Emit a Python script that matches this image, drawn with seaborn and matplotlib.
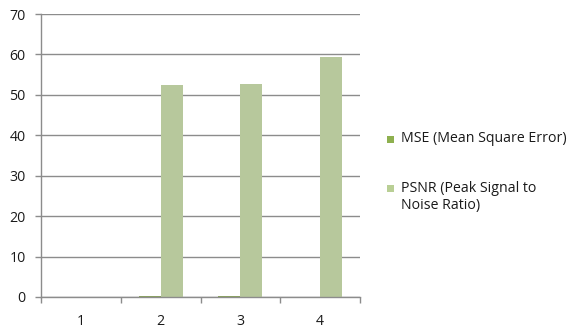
import matplotlib
matplotlib.use("Agg")
import matplotlib.pyplot as plt
from matplotlib.patches import Rectangle
import seaborn as sns
import pandas as pd

# Image quality measurements per test image
images = ["1", "2", "3", "4"]
mse = [0.0, 0.3, 0.3, 0.05]
psnr = [0.0, 52.5, 52.8, 59.3]
metrics = ["MSE (Mean Square Error)", "PSNR (Peak Signal to\nNoise Ratio)"]
colors = ["#8EB04F", "#B9CF95"]

df = pd.DataFrame({
    "image": images * 2,
    "value": mse + psnr,
    "metric": [metrics[0]] * len(images) + [metrics[1]] * len(images),
})

sns.set_theme(style="white")
plt.rcParams["font.family"] = ["Open Sans", "DejaVu Sans"]

fig = plt.figure(figsize=(5.7, 3.33), dpi=100)
ax = fig.add_axes([41 / 570, 36 / 333, 319 / 570, 283 / 333])

sns.barplot(data=df, x="image", y="value", hue="metric", palette=colors,
            width=0.55, dodge=True, legend=False, ax=ax, linewidth=0,
            errorbar=None)

grid_c = "#8C8C8C"
txt_c = "#1a1a1a"
fs = 10.2
ax.set_ylim(0, 70)
ax.set_xlim(-0.5, 3.5)
ax.set_yticks(range(0, 71, 10))
ax.yaxis.grid(True, color=grid_c, linewidth=1)
ax.set_axisbelow(True)
ax.set_xlabel("")
ax.set_ylabel("")

for side in ["top", "right"]:
    ax.spines[side].set_visible(False)
for side in ["left", "bottom"]:
    ax.spines[side].set_color(grid_c)
    ax.spines[side].set_linewidth(1)

ax.set_xticks([-0.5, 0.5, 1.5, 2.5, 3.5], minor=True)
ax.tick_params(axis="x", which="minor", length=4, width=1, color=grid_c,
               direction="out", bottom=True)
ax.tick_params(axis="x", which="major", length=0, pad=12, labelsize=fs,
               labelcolor=txt_c)
ax.tick_params(axis="y", which="major", length=4, width=1, color=grid_c,
               direction="out", left=True, pad=7, labelsize=fs,
               labelcolor=txt_c)

# Legend on the right, squares beside the first line of each label
W, H = 570, 333
entries = [(metrics[0], 139), (metrics[1], 188)]
for (label, yc), col in zip(entries, colors):
    fig.patches.append(Rectangle((387 / W, 1 - (yc + 3.5) / H), 7 / W, 7 / H,
                                 transform=fig.transFigure, color=col,
                                 linewidth=0))
    lines = label.split("\n")
    for i, line in enumerate(lines):
        fig.text(401 / W, 1 - (yc + i * 18) / H, line, ha="left",
                 va="center", fontsize=fs, color=txt_c)

fig.savefig("out.png", dpi=100)
